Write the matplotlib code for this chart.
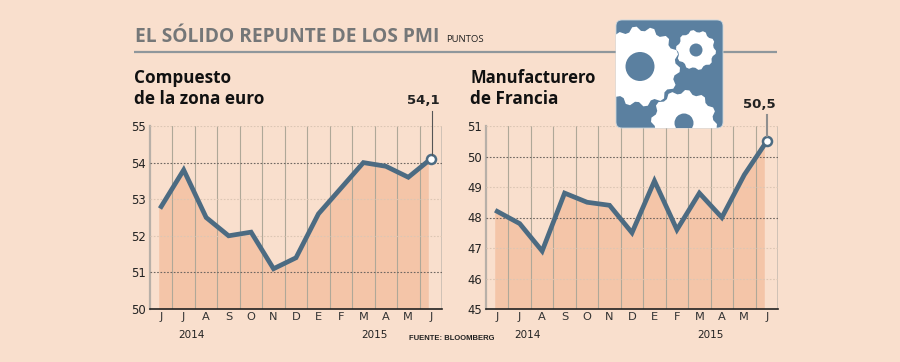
import numpy as np
import matplotlib
matplotlib.use('Agg')
import matplotlib.pyplot as plt
from matplotlib.patches import FancyBboxPatch, Polygon, Circle
from matplotlib.transforms import offset_copy

meses = ['J', 'J', 'A', 'S', 'O', 'N', 'D', 'E', 'F', 'M', 'A', 'M', 'J']
compuesto = [52.8, 53.8, 52.5, 52.0, 52.1, 51.1, 51.4, 52.6, 53.3, 54.0, 53.9, 53.6, 54.1]
francia = [48.2, 47.8, 46.9, 48.8, 48.5, 48.4, 47.5, 49.2, 47.6, 48.8, 48.0, 49.4, 50.5]
ticks_compuesto = [50, 51, 52, 53, 54, 55]
ticks_francia = [45, 46, 47, 48, 49, 50, 51]
fuertes_compuesto = [51, 54]
fuertes_francia = [48, 50]

FONDO = '#F9DFCD'
RELLENO = '#F4C5A8'
LINEA = '#4C6B82'
AZUL = '#5B80A0'
FUENTE = 'Open Sans'

W, H = 900, 362
fig = plt.figure(figsize=(W / 100, H / 100), dpi=100, facecolor=FONDO)


def grafico(rect, valores, yticks, fuertes):
    x0, y_top, ancho, alto = rect
    ax = fig.add_axes([x0 / W, (H - y_top - alto) / H, ancho / W, alto / H])
    ax.set_facecolor('none')
    x = np.arange(len(valores))
    # el area va un poco desplazada respecto a la linea
    trans = offset_copy(ax.transData, fig=fig, x=-2.5, y=0, units='dots')
    ax.fill_between(x, valores, yticks[0], color=RELLENO, lw=0, transform=trans, zorder=1)
    for i in range(len(valores) - 1):
        ax.axvline(i + 0.5, color='#AFA898', lw=0.8, zorder=2)
    ax.axvline(12.5, color='#CFC2B6', lw=1.4, zorder=2)
    for t in yticks[1:]:
        if t in fuertes:
            ax.axhline(t, color='#6E6660', lw=0.8, ls=(0, (1.5, 1.5)), zorder=3)
        else:
            ax.axhline(t, color='#DCC6B4', lw=0.8, ls=(0, (1.5, 1.5)), zorder=3)
    ax.plot(x, valores, color=LINEA, lw=3.4, solid_joinstyle='miter', zorder=4)
    ax.plot(x[-1], valores[-1], 'o', ms=6.5, mfc='white', mec=LINEA, mew=1.8, zorder=6, clip_on=False)
    ax.set_xlim(-0.5, 12.5)
    ax.set_ylim(yticks[0], yticks[-1])
    ax.set_xticks(x)
    ax.set_xticklabels(meses, fontsize=8.2, color='#333333', family='DejaVu Sans')
    ax.set_yticks(yticks)
    ax.set_yticklabels([str(t) for t in yticks], fontsize=8.4, color='#222222', family='DejaVu Sans')
    ax.tick_params(axis='x', length=0, pad=2)
    ax.tick_params(axis='y', length=0, pad=3)
    for lado in ['top', 'right']:
        ax.spines[lado].set_visible(False)
    ax.spines['left'].set_color('#B8B0A8')
    ax.spines['left'].set_linewidth(1.6)
    ax.spines['bottom'].set_color('#222222')
    ax.spines['bottom'].set_linewidth(1.2)
    ax.text(1.33, -0.14, '2014', transform=ax.get_xaxis_transform(), ha='center', va='center',
            fontsize=7.5, color='#222222', family='DejaVu Sans')
    ax.text(9.47, -0.14, '2015', transform=ax.get_xaxis_transform(), ha='center', va='center',
            fontsize=7.5, color='#222222', family='DejaVu Sans')
    return ax


izq = grafico((150, 126, 292, 183), compuesto, ticks_compuesto, fuertes_compuesto)
der = grafico((486, 126, 292, 183), francia, ticks_francia, fuertes_francia)

# capa en pixeles para titulos e icono
capa = fig.add_axes([0, 0, 1, 1], facecolor='none')
capa.set_xlim(0, W)
capa.set_ylim(H, 0)
capa.axis('off')

capa.text(135, 37, 'EL SÓLIDO REPUNTE DE LOS PMI', fontsize=13.75, fontweight='bold', color='#757778',
          family=FUENTE, va='center')
capa.text(446, 39.5, 'PUNTOS', fontsize=6.8, color='#222222', family=FUENTE, va='center')
capa.plot([134, 777], [52, 52], color='#8F979C', lw=1.6, solid_capstyle='butt')

capa.text(134, 78, 'Compuesto', fontsize=12.3, fontweight='bold', color='#111111', family=FUENTE, va='center')
capa.text(134, 99, 'de la zona euro', fontsize=12.3, fontweight='bold', color='#111111', family=FUENTE, va='center')
capa.text(470, 78, 'Manufacturero', fontsize=12.0, fontweight='bold', color='#111111', family=FUENTE, va='center')
capa.text(470, 99, 'de Francia', fontsize=12.3, fontweight='bold', color='#111111', family=FUENTE, va='center')

# valor final con su guia
capa.text(423, 100.5, '54,1', fontsize=9.5, fontweight='bold', color='#222222', family='DejaVu Sans',
          ha='center', va='center')
capa.text(759, 105, '50,5', fontsize=9.5, fontweight='bold', color='#222222', family='DejaVu Sans',
          ha='center', va='center')
capa.plot([431.5, 431.5], [111, 155], color='#555555', lw=0.8)
capa.plot([767, 767], [115, 136], color='#8F8F8F', lw=1.5)

capa.text(409, 338, 'FUENTE: BLOOMBERG', fontsize=5.5, fontweight='bold', color='#222222',
          family='Liberation Sans', va='center')

# icono de engranajes
caja = FancyBboxPatch((619, 23), 101, 102, boxstyle='round,pad=3,rounding_size=6', fc=AZUL, ec='#C9D6DE',
                      lw=0.6, zorder=10)
capa.add_patch(caja)


def engranaje(cx, cy, r, dientes, hueco):
    n = dientes * 4
    ang = np.arange(n) * 2 * np.pi / n + np.pi / n / 2
    radios = np.where(np.arange(n) % 4 < 2, r, r * 0.89)
    pts = np.column_stack([cx + radios * np.cos(ang), cy + radios * np.sin(ang)])
    g = Polygon(pts, closed=True, fc='white', ec='none', zorder=11)
    capa.add_patch(g)
    g.set_clip_path(caja)
    c = Circle((cx, cy), hueco, fc=AZUL, ec='none', zorder=12)
    capa.add_patch(c)
    c.set_clip_path(caja)


engranaje(640, 66.5, 40, 14, 14.5)
engranaje(696, 50, 20, 10, 6.5)
engranaje(684, 123, 33, 12, 9.5)

fig.savefig('out.png', dpi=100, facecolor=FONDO)
